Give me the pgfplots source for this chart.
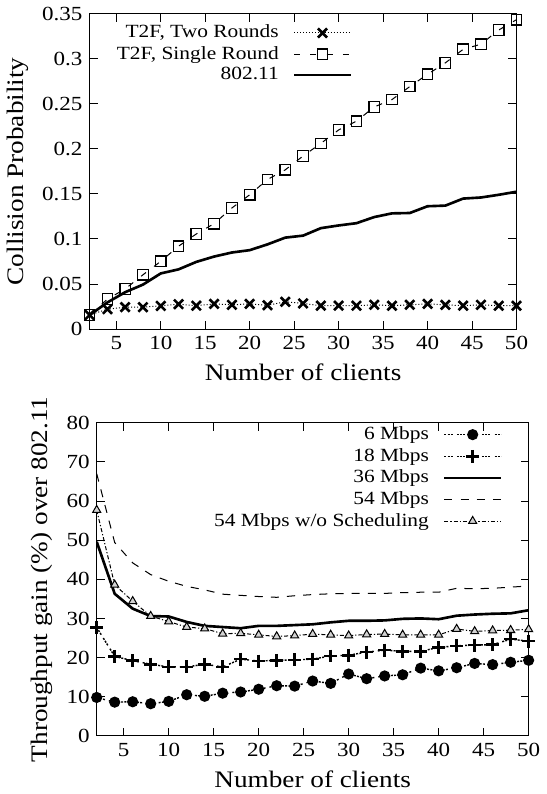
\documentclass[border=0pt]{standalone}
\usepackage{pgfplots}
\pgfplotsset{compat=1.18}
\usepackage{fontspec}
\setmainfont[FakeStretch=1.15]{Liberation Serif}
\usetikzlibrary{plotmarks}

\newlength\legimg
\setlength\legimg{28pt}
\pgfplotsset{
  gp/.style={
    scale only axis,
    xmin=2, xmax=50,
    xtick={5,10,...,50},
    tick align=inside,
    axis line style={line width=0.6pt},
    major tick length=4pt,
    tick style={line width=0.5pt, black},
    /pgf/number format/assume math mode=true,
    tick label style={font=\fontsize{9.9}{10}\selectfont},
    label style={font=\fontsize{11.7}{12}\selectfont},
    xlabel={Number of clients},
    legend style={draw=none, fill=none, font=\fontsize{9.2}{10}\selectfont,
      inner sep=0pt, column sep=7pt, nodes={inner sep=0pt}},
    legend cell align=right,
    legend plot pos=right,
    legend image code/.code={
      \draw[mark repeat=2,mark phase=2,##1] plot coordinates {(0pt,0pt) (0.5\legimg,0pt) (\legimg,0pt)};},
  },
}

\begin{document}
\begin{tikzpicture}
\begin{axis}[gp,
  width=211pt, height=156pt,
  ymin=0, ymax=0.35,
  ytick={0,0.05,...,0.35},
  yticklabel style={/pgf/number format/fixed, /pgf/number format/precision=2},
  ylabel={Collision Probability},
  legend style={at={(0.616,0.965)}, anchor=north east, row sep=2.6pt},
]
\addplot[black, densely dotted, line width=0.5pt, mark=x, mark size=3.2pt,
  mark options={solid, line width=1.3pt}] coordinates {
  (2,0.0157) (4,0.0221) (6,0.0244) (8,0.0244) (10,0.0258) (12,0.0277)
  (14,0.026) (16,0.028) (18,0.027) (20,0.028) (22,0.0265) (24,0.0303)
  (26,0.0285) (28,0.026) (30,0.026) (32,0.026) (34,0.027) (36,0.026)
  (38,0.027) (40,0.028) (42,0.027) (44,0.026) (46,0.027) (48,0.026) (50,0.026)
};
\addlegendentry{T2F, Two Rounds}
\addplot[black, dash pattern=on 3pt off 5pt, line width=0.5pt, mark=square, mark size=2.6pt,
  mark options={solid, line width=0.6pt}] coordinates {
  (2,0.0157) (4,0.0333) (6,0.0446) (8,0.0603) (10,0.0752) (12,0.092)
  (14,0.1056) (16,0.117) (18,0.1344) (20,0.149) (22,0.166) (24,0.1767)
  (26,0.192) (28,0.206) (30,0.2209) (32,0.2306) (34,0.2464) (36,0.2546)
  (38,0.269) (40,0.2826) (42,0.2953) (44,0.3103) (46,0.316) (48,0.3317) (50,0.3432)
};
\addlegendentry{T2F, Single Round}
\addplot[black, line width=1.3pt] coordinates {
  (2,0.0157) (4,0.0296) (6,0.041) (8,0.0494) (10,0.0618) (12,0.0663)
  (14,0.0746) (16,0.0805) (18,0.085) (20,0.0876) (22,0.094) (24,0.1015)
  (26,0.1037) (28,0.112) (30,0.115) (32,0.1175) (34,0.1243) (36,0.1284)
  (38,0.1288) (40,0.1363) (42,0.137) (44,0.1448) (46,0.146) (48,0.149) (50,0.1524)
};
\addlegendentry{802.11}
\end{axis}

\begin{axis}[gp,
  at={(3.5pt,-201pt)}, anchor=south west,
  width=213.5pt, height=154.7pt,
  ymin=0, ymax=80,
  ytick={0,10,...,80},
  ylabel={Throughput gain (\%) over 802.11},
  legend style={at={(0.94,0.989)}, anchor=north east, row sep=2.8pt},
]
\addplot[black, dash pattern=on 1pt off 0.6pt on 1pt off 0.6pt on 1pt off 2pt, line width=0.7pt,
  mark=*, mark size=2.4pt, mark options={solid}] coordinates {
  (2,9.8) (4,8.6) (6,8.7) (8,8.2) (10,8.8) (12,10.5) (14,10.1) (16,10.9)
  (18,11.2) (20,11.9) (22,12.8) (24,12.7) (26,14.0) (28,13.4) (30,15.8)
  (32,14.6) (34,15.3) (36,15.6) (38,17.3) (40,16.6) (42,17.4) (44,18.5)
  (46,18.2) (48,18.8) (50,19.3)
};
\addlegendentry{6 Mbps}
\addplot[black, dash pattern=on 1pt off 0.6pt on 1pt off 0.6pt on 1pt off 2pt, line width=0.7pt,
  mark=+, mark size=3.2pt, mark options={solid, line width=1.3pt}] coordinates {
  (2,27.7) (4,20.3) (6,19.2) (8,18.3) (10,17.6) (12,17.6) (14,18.3) (16,17.6)
  (18,19.6) (20,19.1) (22,19.3) (24,19.4) (26,19.6) (28,20.4) (30,20.6)
  (32,21.4) (34,21.9) (36,21.6) (38,21.6) (40,22.6) (42,23.0) (44,23.2)
  (46,23.3) (48,24.7) (50,24.2)
};
\addlegendentry{18 Mbps}
\addplot[black, line width=1.3pt] coordinates {
  (2,49.6) (4,36.3) (6,32.5) (8,30.6) (10,30.5) (12,29.1) (14,28.1) (16,27.8)
  (18,27.5) (20,28.1) (22,28.1) (24,28.3) (26,28.5) (28,29.0) (30,29.4)
  (32,29.4) (34,29.5) (36,29.9) (38,30.0) (40,29.8) (42,30.7) (44,31.0)
  (46,31.2) (48,31.3) (50,32.1)
};
\addlegendentry{36 Mbps}
\addplot[black, dash pattern=on 4pt off 4pt, line width=0.5pt] coordinates {
  (2,67) (4,49.4) (6,44.2) (8,41.2) (10,39.5) (12,38.2) (14,37.3) (16,36.2)
  (18,35.9) (20,35.6) (22,35.4) (24,35.8) (26,36.1) (28,36.3) (30,36.4)
  (32,36.4) (34,36.4) (36,36.6) (38,36.7) (40,36.7) (42,37.7) (44,37.6)
  (46,37.7) (48,38.0) (50,38.3)
};
\addlegendentry{54 Mbps}
\addplot[black, dash pattern=on 2pt off 1pt on 0.6pt off 1pt, line width=0.5pt,
  mark=triangle*, mark size=2.3pt, mark options={solid, fill=gray!35, line width=0.5pt}] coordinates {
  (2,57.7) (4,38.6) (6,34.4) (8,30.6) (10,29.2) (12,27.8) (14,27.4) (16,26.1)
  (18,26.2) (20,25.8) (22,25.4) (24,25.6) (26,26.0) (28,25.8) (30,25.6)
  (32,25.9) (34,26.0) (36,25.8) (38,25.8) (40,25.8) (42,27.3) (44,26.7)
  (46,26.9) (48,27.0) (50,27.2)
};
\addlegendentry{54 Mbps w/o Scheduling}
\end{axis}
\end{tikzpicture}
\end{document}
